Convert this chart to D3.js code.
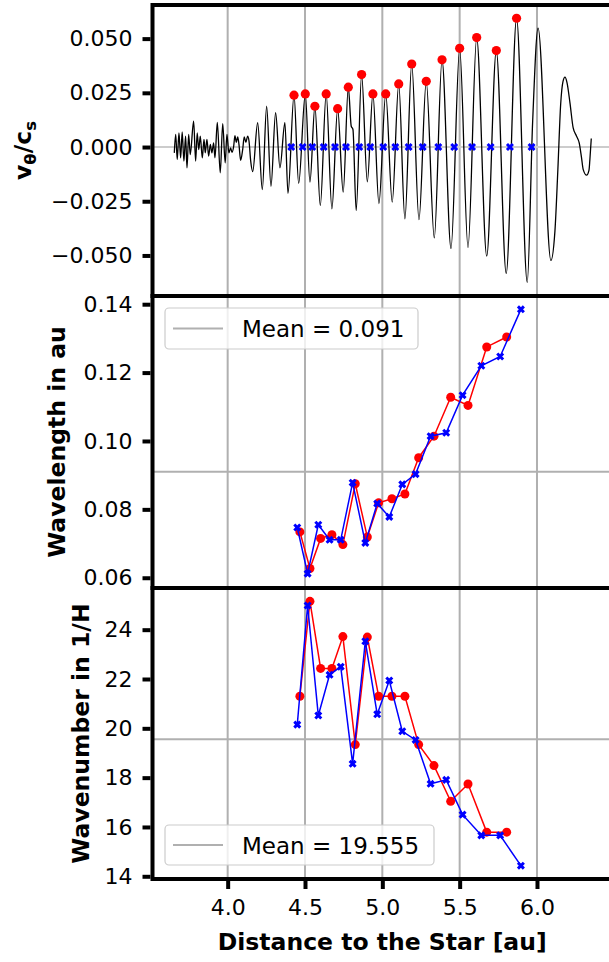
<!DOCTYPE html>
<html>
<head>
<meta charset="utf-8">
<script src="https://cdn.jsdelivr.net/npm/d3@7"></script>
<style>
  html, body { margin: 0; padding: 0; background: #fff; }
  text { font-family: "DejaVu Sans", sans-serif; fill: #000; }
</style>
</head>
<body>
<svg id="chart" width="609" height="962"></svg>
<script>
// ---- azimuthal velocity profile v_theta / c_s versus radius ----
const profileR = [
  3.655, 3.664, 3.674, 3.685, 3.696, 3.706, 3.717, 3.728, 3.737, 3.748, 3.758, 3.780,
  3.793, 3.803, 3.813, 3.823, 3.836, 3.847, 3.855, 3.866, 3.877, 3.888, 3.898, 3.909,
  3.918, 3.933, 3.952, 3.968, 3.984, 3.995, 4.008, 4.019, 4.028, 4.039, 4.047, 4.056,
  4.065, 4.073, 4.084, 4.097, 4.107, 4.118, 4.129, 4.138, 4.149, 4.162, 4.194, 4.224,
  4.252, 4.280, 4.310, 4.338, 4.370, 4.390, 4.429, 4.459, 4.502, 4.532, 4.564, 4.599,
  4.637, 4.674, 4.711, 4.747, 4.780, 4.799, 4.810, 4.831, 4.866, 4.903, 4.939, 4.978,
  5.022, 5.064, 5.106, 5.146, 5.190, 5.237, 5.284, 5.336, 5.386, 5.444, 5.500, 5.554,
  5.610, 5.675, 5.737, 5.801, 5.868, 5.937, 5.972, 6.007, 6.090, 6.116, 6.135, 6.153,
  6.168, 6.181, 6.194, 6.213, 6.234, 6.256, 6.273, 6.287, 6.299, 6.321, 6.336, 6.342,
  6.351
];
const profileV = [
  -0.0027, 0.0058, -0.0058, 0.0065, -0.0050, 0.0070, -0.0065, 0.0050, -0.0096, 0.0058, -0.0035, 0.0119,
  -0.0065, 0.0065, -0.0012, 0.0050, -0.0050, 0.0035, -0.0027, 0.0035, -0.0042, 0.0012, -0.0027, 0.0019,
  -0.0050, 0.0114, -0.0119, 0.0108, -0.0073, 0.0058, -0.0027, -0.0004, -0.0024, 0.0004, 0.0053, 0.0022,
  0.0047, 0.0012, -0.0061, -0.0012, 0.0047, 0.0022, 0.0050, 0.0027, -0.0065, -0.0113, 0.0112, -0.0196,
  0.0188, -0.0181, 0.0158, -0.0096, 0.0112, -0.0214, 0.0239, -0.0168, 0.0245, -0.0162, 0.0188, -0.0270,
  0.0245, -0.0285, 0.0177, -0.0208, 0.0276, 0.0096, 0.0081, -0.0293, 0.0334, -0.0160, 0.0245, -0.0261,
  0.0245, -0.0254, 0.0291, -0.0331, 0.0383, -0.0335, 0.0303, -0.0419, 0.0402, -0.0468, 0.0455, -0.0463,
  0.0505, -0.0503, 0.0445, -0.0583, 0.0594, -0.0624, 0.0119, 0.0548, -0.0523, -0.0388, -0.0104, 0.0196,
  0.0302, 0.0322, 0.0297, 0.0205, 0.0088, 0.0050, 0.0019, -0.0044, -0.0104, -0.0130, -0.0108, -0.0058,
  0.0039
];

// wave crests (maxima) and upward zero crossings
const peakR = [4.429, 4.502, 4.564, 4.637, 4.711, 4.780, 4.866, 4.939, 5.022, 5.106, 5.190, 5.284, 5.386, 5.500, 5.610, 5.737, 5.868];
const peakV = [0.0239, 0.0245, 0.0188, 0.0245, 0.0177, 0.0276, 0.0334, 0.0245, 0.0245, 0.0291, 0.0383, 0.0303, 0.0402, 0.0455, 0.0505, 0.0445, 0.0594];
const crossR = [4.411, 4.485, 4.547, 4.621, 4.694, 4.765, 4.851, 4.922, 5.006, 5.084, 5.170, 5.261, 5.362, 5.465, 5.580, 5.700, 5.825, 5.965];

// wavelengths from crest spacing (red) and crossing spacing (blue)
const peakMidR = [4.467, 4.532, 4.601, 4.674, 4.745, 4.825, 4.903, 4.976, 5.062, 5.146, 5.235, 5.334, 5.442, 5.554, 5.675, 5.804];
const peakLambda = [0.0734, 0.0627, 0.0715, 0.0726, 0.0697, 0.0875, 0.0719, 0.0819, 0.0831, 0.0845, 0.0951, 0.1014, 0.1128, 0.1104, 0.1275, 0.1304];
const crossMidR = [4.450, 4.517, 4.586, 4.659, 4.731, 4.808, 4.890, 4.967, 5.045, 5.129, 5.215, 5.312, 5.413, 5.519, 5.640, 5.762, 5.896];
const crossLambda = [0.0747, 0.0612, 0.0755, 0.0711, 0.0711, 0.0878, 0.0702, 0.0817, 0.0778, 0.0873, 0.0903, 0.1014, 0.1024, 0.1134, 0.1220, 0.1247, 0.1385];
const lambdaMean = 0.091;

// wavenumbers in units of 1/H
const peakK = [21.30, 25.15, 22.43, 22.43, 23.72, 19.34, 23.70, 21.30, 21.30, 21.30, 19.34, 18.49, 17.04, 17.74, 15.79, 15.79];
const crossK = [20.15, 24.98, 20.52, 22.17, 22.50, 18.56, 23.53, 20.57, 21.94, 19.88, 19.53, 17.75, 17.91, 16.50, 15.66, 15.66, 14.43];
const kMean = 19.555;

// tick values
const xTicks = [4.0, 4.5, 5.0, 5.5, 6.0];
const vTicks = [-0.050, -0.025, 0.000, 0.025, 0.050];
const lambdaTicks = [0.06, 0.08, 0.10, 0.12, 0.14];
const kTicks = [14, 16, 18, 20, 22, 24];

// ---- layout ----
const svg = d3.select("#chart");
const left = 152.5, right = 612;
const panels = [
  { top: 5,   bottom: 296 },
  { top: 296, bottom: 588 },
  { top: 588, bottom: 879 }
];
const tickFont = 22, legendFont = 23, labelFont = 23.5;
const gridColor = "#b0b0b0";
const spineW = 4;

const x = d3.scaleLinear().domain([3.514, 6.485]).range([left, right]);
const yV = d3.scaleLinear().domain([-0.0687, 0.0655]).range([panels[0].bottom, panels[0].top]);
const yL = d3.scaleLinear().domain([0.0570, 0.1424]).range([panels[1].bottom, panels[1].top]);
const yK = d3.scaleLinear().domain([13.89, 25.69]).range([panels[2].bottom, panels[2].top]);

const gridLayer = svg.append("g");
const dataLayer = svg.append("g");
const frameLayer = svg.append("g");
const legendLayer = svg.append("g");

// vertical grid lines in every panel
panels.forEach(p => {
  gridLayer.selectAll(null).data(xTicks).enter().append("line")
    .attr("x1", d => x(d)).attr("x2", d => x(d))
    .attr("y1", p.top).attr("y2", p.bottom)
    .attr("stroke", gridColor).attr("stroke-width", 2);
});

// filled "X" marker
function xMarkerPath(L, w) {
  let d = "";
  for (const th of [Math.PI / 4, -Math.PI / 4]) {
    const c = Math.cos(th), s = Math.sin(th);
    const pts = [[-L, -w], [L, -w], [L, w], [-L, w]].map(([a, b]) => [a * c - b * s, a * s + b * c]);
    d += "M" + pts.map(q => q[0].toFixed(2) + "," + q[1].toFixed(2)).join("L") + "Z";
  }
  return d;
}
const xMark = xMarkerPath(4.2, 1.5);

// clip each panel to its frame
const defs = svg.append("defs");
panels.forEach((p, i) => {
  defs.append("clipPath").attr("id", "clip" + i).append("rect")
    .attr("x", left).attr("y", p.top).attr("width", right - left).attr("height", p.bottom - p.top);
});

// ---- panel 1: velocity profile ----
const g1 = dataLayer.append("g").attr("clip-path", "url(#clip0)");
g1.append("line")
  .attr("x1", left).attr("x2", right).attr("y1", yV(0)).attr("y2", yV(0))
  .attr("stroke", "#cccccc").attr("stroke-width", 2);
const profile = profileR.map((r, i) => [r, profileV[i]]);
g1.append("path")
  .attr("d", d3.line().curve(d3.curveMonotoneX).x(d => x(d[0])).y(d => yV(d[1]))(profile))
  .attr("fill", "none").attr("stroke", "#000").attr("stroke-width", 1.3)
  .attr("stroke-linejoin", "round");
g1.selectAll(null).data(crossR).enter().append("path")
  .attr("d", xMark).attr("transform", d => `translate(${x(d)},${yV(0)})`)
  .attr("fill", "#0000ff");
g1.selectAll(null).data(peakR).enter().append("circle")
  .attr("cx", d => x(d)).attr("cy", (d, i) => yV(peakV[i])).attr("r", 4.6)
  .attr("fill", "#ff0000");

// ---- panels 2 and 3: wavelength and wavenumber ----
function seriesPanel(idx, y, meanVal, redR, redY, blueR, blueY) {
  const g = dataLayer.append("g").attr("clip-path", `url(#clip${idx})`);
  g.append("line")
    .attr("x1", left).attr("x2", right).attr("y1", y(meanVal)).attr("y2", y(meanVal))
    .attr("stroke", gridColor).attr("stroke-width", 2);
  const line = d3.line().x(d => x(d[0])).y(d => y(d[1]));
  const red = redR.map((r, i) => [r, redY[i]]);
  const blue = blueR.map((r, i) => [r, blueY[i]]);
  g.append("path").attr("d", line(red)).attr("fill", "none").attr("stroke", "#ff0000").attr("stroke-width", 1.5);
  g.selectAll(null).data(red).enter().append("circle")
    .attr("cx", d => x(d[0])).attr("cy", d => y(d[1])).attr("r", 4.5).attr("fill", "#ff0000");
  g.append("path").attr("d", line(blue)).attr("fill", "none").attr("stroke", "#0000ff").attr("stroke-width", 1.5);
  g.selectAll(null).data(blue).enter().append("path")
    .attr("d", xMark).attr("transform", d => `translate(${x(d[0])},${y(d[1])})`).attr("fill", "#0000ff");
}
seriesPanel(1, yL, lambdaMean, peakMidR, peakLambda, crossMidR, crossLambda);
seriesPanel(2, yK, kMean, peakMidR, peakK, crossMidR, crossK);

// ---- axes ----
function yAxis(scale, ticks, fmt) {
  const ax = d3.axisLeft(scale).tickValues(ticks).tickFormat(fmt).tickSize(8).tickPadding(10);
  const g = frameLayer.append("g").attr("transform", `translate(${left - spineW / 2},0)`).call(ax);
  g.select(".domain").remove();
  g.selectAll(".tick line").attr("stroke", "#000").attr("stroke-width", 4);
  g.selectAll(".tick text").attr("font-size", tickFont).attr("font-family", "DejaVu Sans").attr("fill", "#000");
}
yAxis(yV, vTicks, d3.format(".3f"));
yAxis(yL, lambdaTicks, d3.format(".2f"));
yAxis(yK, kTicks, d3.format("d"));

const xAx = d3.axisBottom(x).tickValues(xTicks).tickFormat(d3.format(".1f")).tickSize(8).tickPadding(10);
const gx = frameLayer.append("g").attr("transform", `translate(0,${panels[2].bottom + spineW / 2})`).call(xAx);
gx.select(".domain").remove();
gx.selectAll(".tick line").attr("stroke", "#000").attr("stroke-width", 4);
gx.selectAll(".tick text").attr("font-size", tickFont).attr("font-family", "DejaVu Sans").attr("fill", "#000");

// spines
panels.forEach(p => {
  frameLayer.append("rect")
    .attr("x", left).attr("y", p.top).attr("width", right - left).attr("height", p.bottom - p.top)
    .attr("fill", "none").attr("stroke", "#000").attr("stroke-width", spineW);
});

// axis labels
const labels = frameLayer.append("g").attr("font-weight", "bold").attr("font-size", labelFont);
labels.append("text")
  .attr("x", (left + right) / 2).attr("y", 950).attr("text-anchor", "middle")
  .text("Distance to the Star [au]");
labels.append("text")
  .attr("transform", `translate(65,${(panels[1].top + panels[1].bottom) / 2}) rotate(-90)`)
  .attr("text-anchor", "middle").text("Wavelength in au");
labels.append("text")
  .attr("transform", `translate(89,${(panels[2].top + panels[2].bottom) / 2}) rotate(-90)`)
  .attr("text-anchor", "middle").text("Wavenumber in 1/H");
const vt = labels.append("text")
  .attr("transform", `translate(31,${(panels[0].top + panels[0].bottom) / 2}) rotate(-90)`)
  .attr("text-anchor", "middle");
vt.append("tspan").text("v");
vt.append("tspan").attr("font-size", labelFont * 0.7).attr("dy", 5).text("θ");
vt.append("tspan").attr("dy", -5).text("/c");
vt.append("tspan").attr("font-size", labelFont * 0.7).attr("dy", 5).text("s");

// legends
function legend(x0, y0, w, h, label) {
  const g = legendLayer.append("g");
  g.append("rect").attr("x", x0).attr("y", y0).attr("width", w).attr("height", h)
    .attr("rx", 4).attr("fill", "#fff").attr("fill-opacity", 0.8)
    .attr("stroke", "#cccccc").attr("stroke-width", 1.2);
  g.append("line").attr("x1", x0 + 8).attr("x2", x0 + 58)
    .attr("y1", y0 + h / 2).attr("y2", y0 + h / 2)
    .attr("stroke", gridColor).attr("stroke-width", 2);
  g.append("text").attr("x", x0 + 77).attr("y", y0 + h / 2 + 8.5)
    .attr("font-size", legendFont).text(label);
}
legend(165, 308, 253, 41, "Mean = " + d3.format(".3f")(lambdaMean));
legend(165, 825, 269, 40, "Mean = " + d3.format(".3f")(kMean));
</script>
</body>
</html>
